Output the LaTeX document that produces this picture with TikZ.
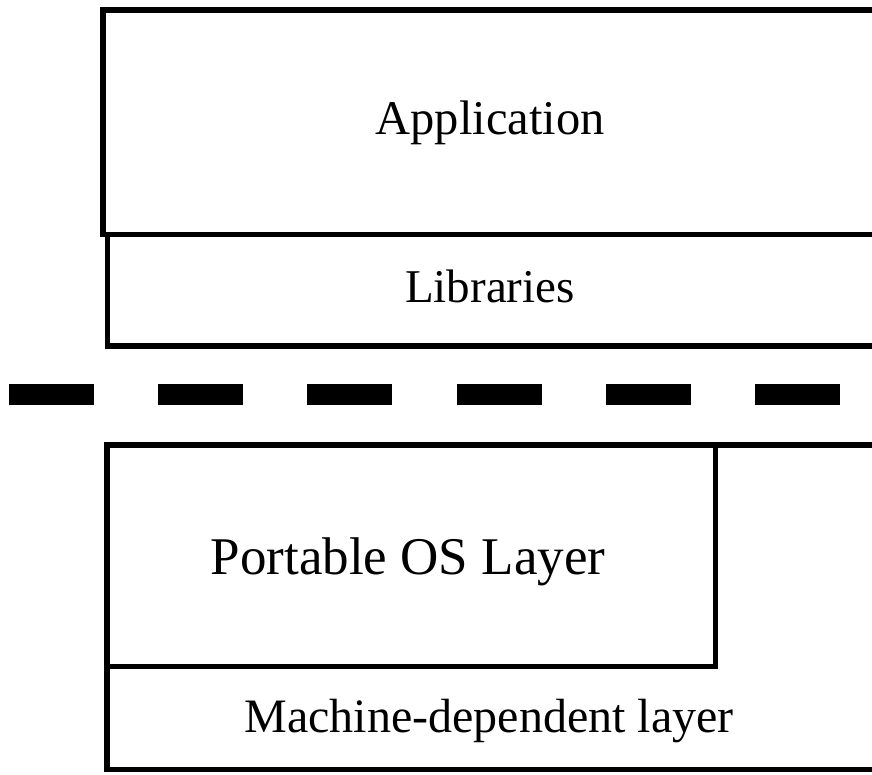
\documentclass[tikz,border=0pt]{standalone}
\usepackage{fontspec}
\setmainfont{Liberation Serif}
\begin{document}
\begin{tikzpicture}[x=1pt,y=-1pt,
  layer/.style={draw=black, line width=5.5pt, rectangle, inner sep=0pt, anchor=north west},
  lbl/.style={anchor=base, inner sep=0pt, text=black},
  big/.style={font=\fontsize{53}{60}\selectfont},
  mid/.style={font=\fontsize{48}{56}\selectfont}]
\clip (0,0) rectangle (872,775);
\fill[white] (0,0) rectangle (872,775);
% upper layers
\node[layer, minimum width=780pt, minimum height=224.5pt] (app) at (100,7.5) {};
\node[layer, minimum width=776pt, minimum height=111pt] (lib) at (104.5,232) {};
% lower layers
\node[layer, minimum width=776pt, minimum height=324.5pt] (mach) at (104,442) {};
\node[layer, minimum width=608.5pt, minimum height=221.5pt] (pos) at (104,442) {};
% labels
\node[lbl, font=\fontsize{48.5}{56}\selectfont] (appt) at (490,135) {Application};
\node[lbl, font=\fontsize{47}{55}\selectfont] (libt) at (490,302) {Libraries};
\node[lbl, big] (post) at (408,574) {Portable OS Layer};
\node[lbl, mid] (macht) at (489,732) {Machine-dependent layer};
% separator between user space and system
\draw[line width=21pt, dash pattern=on 85pt off 64.2pt] (9,394) -- (872,394);
\end{tikzpicture}
\end{document}
